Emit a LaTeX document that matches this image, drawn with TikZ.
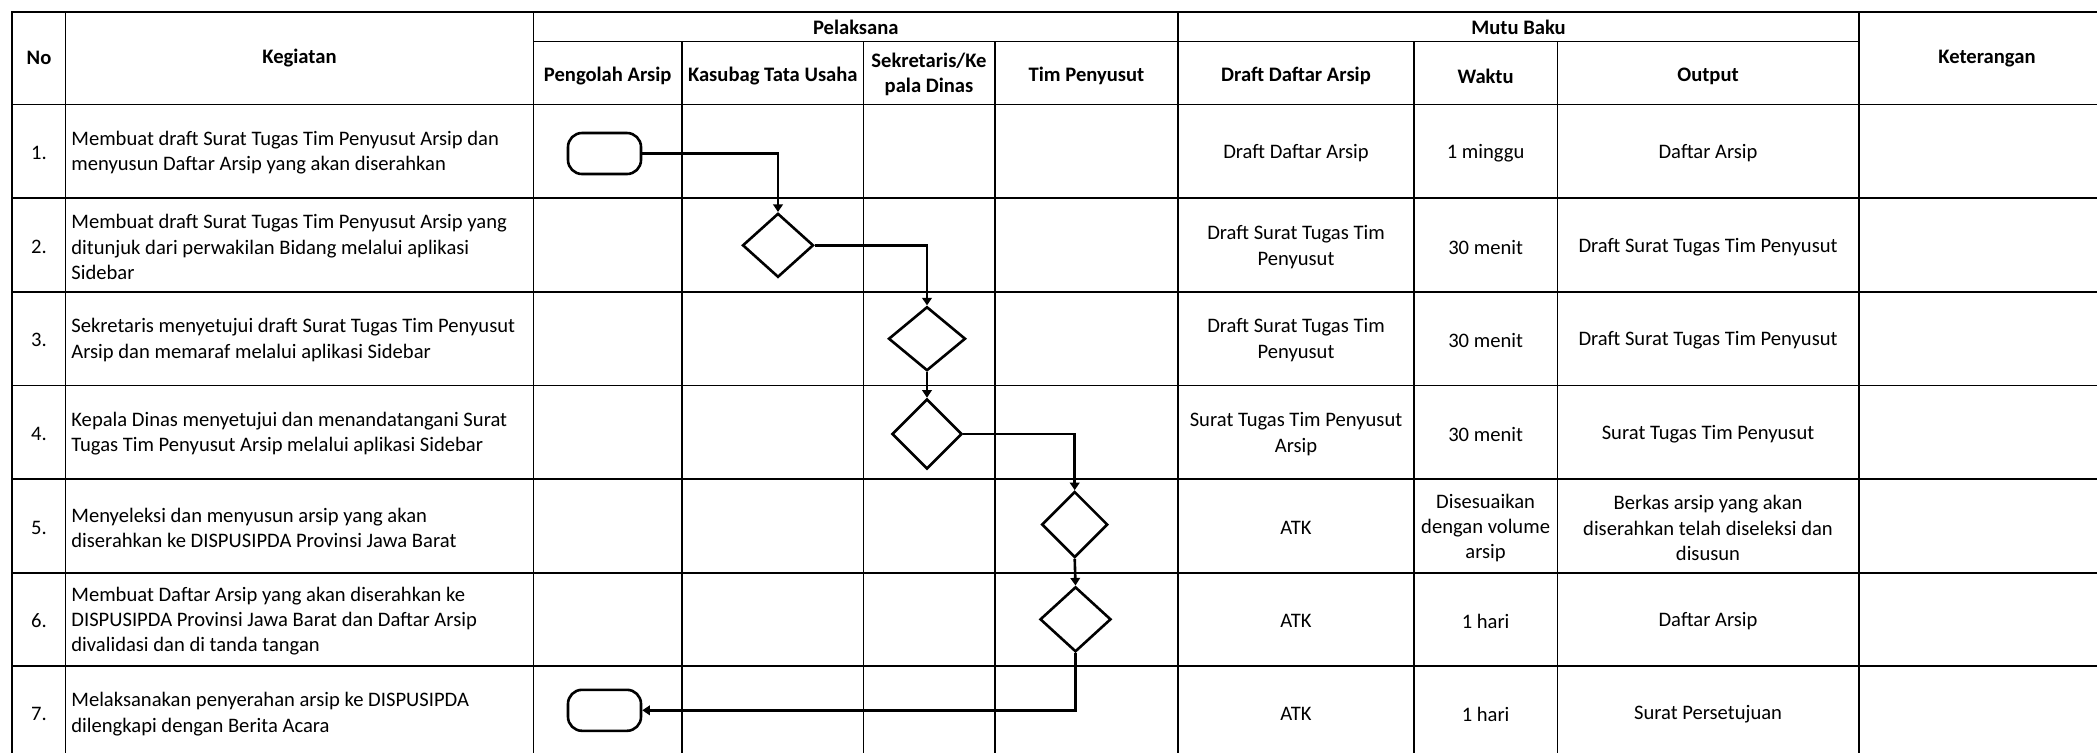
\documentclass[tikz,border=0pt]{standalone}
\usepackage{fontspec}
\setmainfont{Carlito}
\usetikzlibrary{shapes.geometric,arrows.meta}
\newcommand\tblfont{\fontsize{10.3}{12.6}\selectfont}
\begin{document}
\begin{tikzpicture}[x=0.5pt,y=-0.5pt,
  gridline/.style={line width=0.9pt,line cap=rect},
  txt/.style={inner sep=0pt,align=center,font=\tblfont},
  hdr/.style={inner sep=0pt,align=center,font=\tblfont\bfseries},
  act/.style={inner sep=0pt,align=left,anchor=west,font=\tblfont},
  term/.style={draw,line width=1.3pt,rounded corners=7pt,minimum width=36.5pt,minimum height=20.5pt,inner sep=0pt},
  dec/.style={draw,diamond,line width=1.3pt,inner sep=0pt},
  conn/.style={line width=1.3pt,-{Triangle[length=3.8pt,width=4.8pt]}}
]
\useasboundingbox (0,0) rectangle (2097,752);
% horizontal grid lines
\draw[gridline] (12,12) -- (2097,12);
\draw[gridline] (533.5,41.5) -- (1859,41.5);
\foreach \yy in {104.5,198,291.7,385.5,479,572.7,666}
  \draw[gridline] (12,\yy) -- (2097,\yy);
% vertical grid lines
\foreach \xx in {12,65.5,533.5,1178,1859}
  \draw[gridline] (\xx,12) -- (\xx,752);
\foreach \xx in {682,863.5,995,1413.7,1557.5}
  \draw[gridline] (\xx,41.5) -- (\xx,752);
% headers
\node[hdr] (hNo) at (39,58) {No};
\node[hdr] (hKeg) at (299.5,58) {Kegiatan};
\node[hdr] (hPel) at (855.8,27) {Pelaksana};
\node[hdr] (hMutu) at (1518.5,27) {Mutu Baku};
\node[hdr] (hKet) at (1987,59) {Keterangan};
\node[hdr] (hPA) at (607.7,76) {Pengolah Arsip};
\node[hdr] (hKTU) at (772.8,76) {Kasubag Tata Usaha};
\node[hdr] (hSek) at (929,74) {Sekretaris/Ke\\pala Dinas};
\node[hdr] (hTim) at (1086.5,76) {Tim Penyusut};
\node[hdr] (hDDA) at (1296,76) {Draft Daftar Arsip};
\node[hdr] (hWak) at (1485.6,76) {Waktu};
\node[hdr] (hOut) at (1708,76) {Output};
% row numbers
\node[txt] (n1) at (39,153) {1.};
\node[txt] (n2) at (39,247) {2.};
\node[txt] (n3) at (39,340) {3.};
\node[txt] (n4) at (39,434) {4.};
\node[txt] (n5) at (39,528) {5.};
\node[txt] (n6) at (39,621) {6.};
\node[txt] (n7) at (39,714) {7.};
% activities
\node[act] (k1) at (71,153) {Membuat draft Surat Tugas Tim Penyusut Arsip dan\\menyusun Daftar Arsip yang akan diserahkan};
\node[act] (k2) at (71,247) {Membuat draft Surat Tugas Tim Penyusut Arsip yang\\ditunjuk dari perwakilan Bidang melalui aplikasi\\Sidebar};
\node[act] (k3) at (71,340) {Sekretaris menyetujui draft Surat Tugas Tim Penyusut\\Arsip dan memaraf melalui aplikasi Sidebar};
\node[act] (k4) at (71,434) {Kepala Dinas menyetujui dan menandatangani Surat\\Tugas Tim Penyusut Arsip melalui aplikasi Sidebar};
\node[act] (k5) at (71,528) {Menyeleksi dan menyusun arsip yang akan\\diserahkan ke DISPUSIPDA Provinsi Jawa Barat};
\node[act] (k6) at (71,621) {Membuat Daftar Arsip yang akan diserahkan ke\\DISPUSIPDA Provinsi Jawa Barat dan Daftar Arsip\\divalidasi dan di tanda tangan};
\node[act] (k7) at (71,714) {Melaksanakan penyerahan arsip ke DISPUSIPDA\\dilengkapi dengan Berita Acara};
% Draft Daftar Arsip column
\node[txt] (a1) at (1296,153) {Draft Daftar Arsip};
\node[txt] (a2) at (1296,247) {Draft Surat Tugas Tim\\Penyusut};
\node[txt] (a3) at (1296,340) {Draft Surat Tugas Tim\\Penyusut};
\node[txt] (a4) at (1296,434) {Surat Tugas Tim Penyusut\\Arsip};
\node[txt] (a5) at (1296,528) {ATK};
\node[txt] (a6) at (1296,621) {ATK};
\node[txt] (a7) at (1296,714) {ATK};
% Waktu column
\node[txt] (w1) at (1485.6,153) {1 minggu};
\node[txt] (w2) at (1485.6,247) {30 menit};
\node[txt] (w3) at (1485.6,340) {30 menit};
\node[txt] (w4) at (1485.6,434) {30 menit};
\node[txt] (w5) at (1485.6,528) {Disesuaikan\\dengan volume\\arsip};
\node[txt] (w6) at (1485.6,621) {1 hari};
\node[txt] (w7) at (1485.6,714) {1 hari};
% Output column
\node[txt] (o1) at (1708,153) {Daftar Arsip};
\node[txt] (o2) at (1708,247) {Draft Surat Tugas Tim Penyusut};
\node[txt] (o3) at (1708,340) {Draft Surat Tugas Tim Penyusut};
\node[txt] (o4) at (1708,434) {Surat Tugas Tim Penyusut};
\node[txt] (o5) at (1708,528) {Berkas arsip yang akan\\diserahkan telah diseleksi dan\\disusun};
\node[txt] (o6) at (1708,621) {Daftar Arsip};
\node[txt] (o7) at (1708,714) {Surat Persetujuan};
% flow shapes
\node[term] (t1) at (604.5,153.5) {};
\node[dec,minimum width=35.5pt,minimum height=32pt] (d1) at (778,245.3) {};
\node[dec,minimum width=38.5pt,minimum height=32pt] (d2) at (927,338.7) {};
\node[dec,minimum width=35pt,minimum height=35pt] (d3) at (927,434) {};
\node[dec,minimum width=33pt,minimum height=33pt] (d4) at (1074.7,524.5) {};
\node[dec,minimum width=35.5pt,minimum height=32.5pt] (d5) at (1075.5,619.3) {};
\node[term] (t7) at (604.5,710.3) {};
% connectors
\draw[conn] (t1.east) -| (d1.north);
\draw[conn] (d1.east) -| (d2.north);
\draw[conn] (d2.south) -- (d3.north);
\draw[conn] (d3.east) -| (d4.north);
\draw[conn] (d4.south) -- (d5.north);
\draw[conn] (d5.south) |- (t7.east);
\end{tikzpicture}
\end{document}
